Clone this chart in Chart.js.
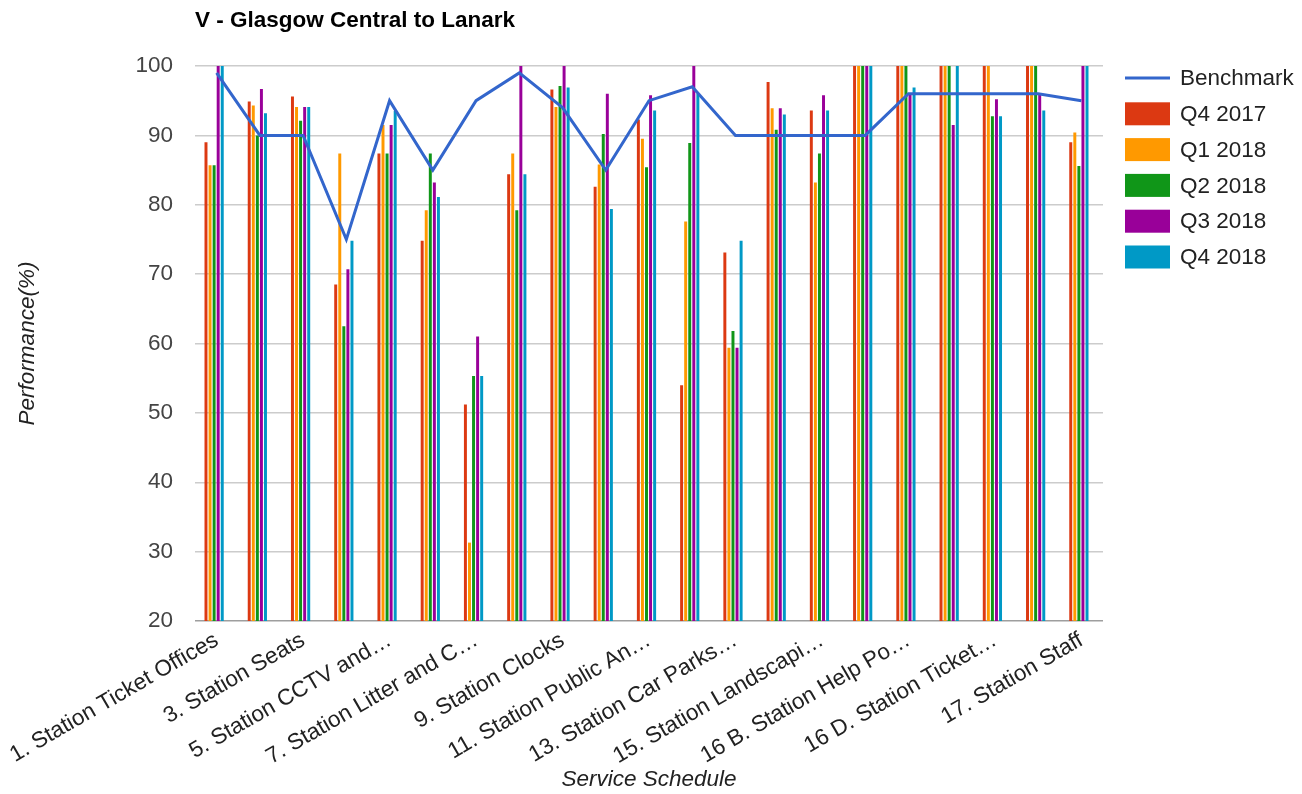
<!DOCTYPE html>
<html>
<head>
<meta charset="utf-8">
<script src="https://cdn.jsdelivr.net/npm/chart.js@4.4.1/dist/chart.umd.min.js"></script>
<style>
  html, body { margin: 0; padding: 0; background: #ffffff; }
  #wrap { width: 1302px; height: 794px; position: relative; }
</style>
</head>
<body>
<div id="wrap"><canvas id="chart" width="1302" height="794"></canvas></div>
<script>
// Service schedule items (every other one is labelled on the axis)
const categories = [
  '1. Station Ticket Offices', '2.', '3. Station Seats', '4.',
  '5. Station CCTV and\u2026', '6.', '7. Station Litter and C\u2026', '8.',
  '9. Station Clocks', '10.', '11. Station Public An\u2026', '12.',
  '13. Station Car Parks\u2026', '14.', '15. Station Landscapi\u2026', '16 A.',
  '16 B. Station Help Po\u2026', '16 C.', '16 D. Station Ticket\u2026', '16 E.',
  '17. Station Staff'
];

// Performance (%) per quarter
const benchmark = [99, 90, 90, 75, 95, 85, 95, 99, 94, 85, 95, 97, 90, 90, 90, 90, 96, 96, 96, 96, 95];
const q4_2017 = [89.0, 94.9, 95.6, 68.5, 87.4, 74.8, 51.2, 84.4, 96.6, 82.6, 92.3, 54.0, 73.1, 97.7, 93.6, 100, 100, 100, 100, 100, 89.0];
const q1_2018 = [85.7, 94.3, 94.1, 87.4, 91.5, 79.2, 31.3, 87.4, 94.1, 85.8, 89.5, 77.6, 59.4, 93.9, 83.2, 100, 100, 100, 100, 100, 90.4];
const q2_2018 = [85.7, 90.0, 92.1, 62.5, 87.4, 87.4, 55.3, 79.2, 97.1, 90.2, 85.4, 88.9, 61.8, 90.8, 87.4, 100, 100, 100, 92.75, 100, 85.6];
const q3_2018 = [100, 96.7, 94.1, 70.7, 91.5, 83.2, 61.0, 100, 100, 96.0, 95.8, 100, 59.4, 93.9, 95.8, 100, 96.0, 91.5, 95.2, 96.0, 100];
const q4_2018 = [100, 93.2, 94.1, 74.8, 93.5, 81.1, 55.3, 84.4, 96.9, 79.4, 93.6, 96.0, 74.8, 93.0, 93.6, 100, 96.9, 100, 92.75, 93.6, 100];

const yTicks = { min: 20, max: 100, step: 10 };

const FONT = '"Liberation Sans", Arial, sans-serif';
const FS = 22.5;
const chartTitle = 'V - Glasgow Central to Lanark';

// Bars sit slightly left of the benchmark vertices
const barShift = -2.5;

const shiftBars = {
  id: 'shiftBars',
  afterDatasetsUpdate(chart) {
    chart.data.datasets.forEach((ds, i) => {
      if (ds.type === 'bar') {
        chart.getDatasetMeta(i).data.forEach(el => { el.x += barShift; });
      }
    });
  }
};

const titleAndLegend = {
  id: 'titleAndLegend',
  afterDraw(chart) {
    const ctx = chart.ctx;
    const area = chart.chartArea;
    ctx.save();
    // chart title
    ctx.fillStyle = '#000000';
    ctx.font = 'bold ' + FS + 'px ' + FONT;
    ctx.textAlign = 'left';
    ctx.textBaseline = 'alphabetic';
    ctx.fillText(chartTitle, area.left, 27);

    // legend
    const lx = 1125, tx = 1180, y0 = 78, dy = 35.8;
    ctx.font = FS + 'px ' + FONT;
    ctx.textBaseline = 'middle';
    chart.data.datasets.forEach((ds, i) => {
      const y = y0 + i * dy;
      if (ds.type === 'line') {
        ctx.strokeStyle = ds.borderColor;
        ctx.lineWidth = 3;
        ctx.beginPath();
        ctx.moveTo(lx, y);
        ctx.lineTo(lx + 45, y);
        ctx.stroke();
      } else {
        ctx.fillStyle = ds.backgroundColor;
        ctx.fillRect(lx, y - 11.5, 45, 23);
      }
      ctx.fillStyle = '#222222';
      ctx.fillText(ds.label, tx, y + 1);
    });
    ctx.restore();
  }
};

new Chart(document.getElementById('chart'), {
  data: {
    labels: categories,
    datasets: [
      { type: 'line', label: 'Benchmark', data: benchmark, borderColor: '#3366cc', backgroundColor: '#3366cc',
        borderWidth: 3, pointRadius: 0, tension: 0, order: 0 },
      { type: 'bar', label: 'Q4 2017', data: q4_2017, backgroundColor: '#dc3912', order: 1 },
      { type: 'bar', label: 'Q1 2018', data: q1_2018, backgroundColor: '#ff9900', order: 1 },
      { type: 'bar', label: 'Q2 2018', data: q2_2018, backgroundColor: '#109618', order: 1 },
      { type: 'bar', label: 'Q3 2018', data: q3_2018, backgroundColor: '#990099', order: 1 },
      { type: 'bar', label: 'Q4 2018', data: q4_2018, backgroundColor: '#0099c6', order: 1 }
    ]
  },
  options: {
    responsive: false,
    animation: false,
    layout: { padding: { left: 0, right: 199, top: 66, bottom: 0 } },
    datasets: { bar: { categoryPercentage: 0.47, barPercentage: 0.73 } },
    plugins: {
      legend: { display: false },
      title: { display: false },
      tooltip: { enabled: false }
    },
    scales: {
      x: {
        grid: { display: false, drawTicks: false },
        border: { display: false },
        ticks: {
          autoSkip: false, minRotation: 30, maxRotation: 30, padding: 6,
          color: '#222222', font: { family: FONT, size: FS },
          callback: (v, i) => (i % 2 === 0 ? categories[i] : '')
        },
        title: {
          display: true, text: 'Service Schedule', color: '#222222',
          font: { family: FONT, size: FS, style: 'italic' }, padding: { top: 0, bottom: 1 }
        },
        afterFit: s => { s.height = 173; }
      },
      y: {
        min: yTicks.min, max: yTicks.max,
        ticks: { stepSize: yTicks.step, padding: 22, color: '#444444', font: { family: FONT, size: FS } },
        grid: {
          drawTicks: false, lineWidth: 1.5,
          color: c => (c.tick && c.tick.value === yTicks.min ? '#9e9e9e' : '#cccccc')
        },
        border: { display: false },
        title: {
          display: true, text: 'Performance(%)', color: '#222222',
          font: { family: FONT, size: FS, style: 'italic' }, padding: { top: 14, bottom: 0 }
        },
        afterFit: s => { s.width = 195; }
      }
    }
  },
  plugins: [shiftBars, titleAndLegend]
});
</script>
</body>
</html>
